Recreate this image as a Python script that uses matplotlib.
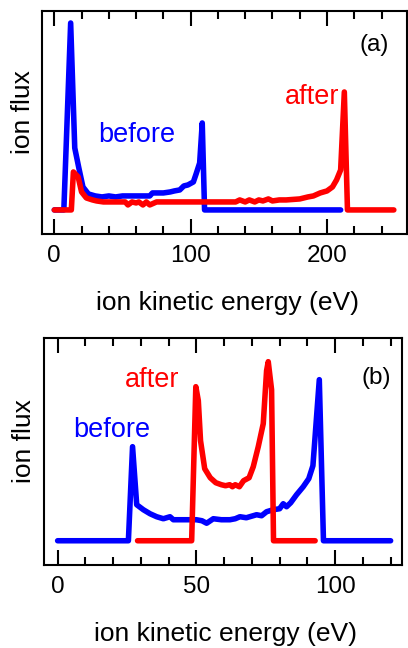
import matplotlib
matplotlib.use("Agg")
import matplotlib.pyplot as plt
from matplotlib.ticker import MultipleLocator, NullLocator

plt.rcParams['font.family'] = ['Liberation Sans', 'DejaVu Sans']

BLUE = '#0000ff'
RED = '#ff0000'

# panel (a) spectra, energy in eV, flux in arbitrary units
a_before_x = [0, 7, 12, 15, 18, 21, 25, 30, 35, 40, 45, 50, 60, 70, 72, 80, 85, 88,
              92, 95, 98, 102, 104, 106.6, 108.5, 110.2, 210]
a_before_y = [0, 0, 187, 62, 42, 23, 16, 14, 13, 14, 13, 14, 14, 14, 17, 17, 18, 19,
              20, 24, 25, 28, 36, 47, 87, 0, 0]
a_after_x = [0, 12.5, 14, 17.5, 20, 23.5, 28, 31, 36, 45, 52, 54, 57, 60, 62, 65, 67.5,
             70, 75, 90, 110, 133, 136, 140, 143, 147, 150, 153, 157, 160, 165, 170,
             180, 186, 190, 195, 200, 204, 207, 210, 212.7, 215, 249]
a_after_y = [0, 0, 38, 33, 18, 12, 10, 9, 8, 8, 8, 5, 8, 7, 8, 5, 8,
             5, 8, 8, 8, 8, 10, 8, 10, 8, 10, 9, 11, 9, 10, 10,
             11, 13, 14, 17, 19, 23, 30, 40, 118, 0, 0]

# panel (b) spectra
b_before_x = [0, 25.5, 27, 28.5, 30.9, 33.3, 35.7, 38.1, 40.5, 41.7, 44, 47.7, 50, 52,
              53.7, 56.1, 59, 62.1, 64, 65.7, 68, 71.7, 73.5, 75.3, 77.7, 80, 81.3, 82.5,
              84, 86.1, 88.5, 90.5, 92, 92.7, 94.3, 95.8, 120]
b_before_y = [0, 0, 94, 36, 31, 27, 24, 22, 24, 21, 21, 21, 21, 20, 17.5, 22, 21,
              21, 22, 24, 23, 26, 25, 29, 31, 32, 37, 34, 38, 46, 54, 62, 75, 101,
              161, 0, 0]
b_after_x = [28.8, 48.3, 49.8, 50.7, 51.5, 53, 55, 57, 59, 60.5, 62, 63, 64, 65.5, 67,
             69, 70.5, 72.3, 74.1, 75.3, 75.9, 77.1, 77.8, 92.8]
b_after_y = [0, 0, 154, 140, 100, 72, 63, 58, 56, 55, 56, 54, 56, 54, 60, 63, 74,
             94, 117, 170, 179, 151, 0, 0]

fig = plt.figure(figsize=(4.08, 6.48), dpi=100)
ax_a = fig.add_axes([0.103, 0.639, 0.894, 0.344])
ax_b = fig.add_axes([0.1086, 0.128, 0.876, 0.350])


def style(ax, xlim, ylim, major, minor):
    ax.set_xlim(*xlim)
    ax.set_ylim(*ylim)
    ax.xaxis.set_major_locator(MultipleLocator(major))
    ax.xaxis.set_minor_locator(MultipleLocator(minor))
    ax.yaxis.set_major_locator(NullLocator())
    ax.tick_params(axis='x', which='both', direction='in', top=True, bottom=True,
                   width=1.5, labelsize=17.5, pad=8)
    ax.tick_params(axis='x', which='major', length=11)
    ax.tick_params(axis='x', which='minor', length=6)
    for s in ax.spines.values():
        s.set_linewidth(1.5)


line_kw = dict(lw=4, solid_joinstyle='round', solid_capstyle='round')
ax_a.plot(a_before_x, a_before_y, color=BLUE, **line_kw)
ax_a.plot(a_after_x, a_after_y, color=RED, **line_kw)
style(ax_a, (-9, 258.5), (-24, 199), 100, 20)
ax_a.text(60.6, 75, 'before', color=BLUE, fontsize=19.5, ha='center', va='center')
ax_a.text(189, 113, 'after', color=RED, fontsize=19.5, ha='center', va='center')
ax_a.text(234.6, 165, '(a)', fontsize=17.5, ha='center', va='center')

ax_b.plot(b_before_x, b_before_y, color=BLUE, **line_kw)
ax_b.plot(b_after_x, b_after_y, color=RED, **line_kw)
style(ax_b, (-4.8, 124), (-24.3, 202.4), 50, 10)
ax_b.text(19.5, 111, 'before', color=BLUE, fontsize=19.5, ha='center', va='center')
ax_b.text(34, 161, 'after', color=RED, fontsize=19.5, ha='center', va='center')
ax_b.text(115, 163, '(b)', fontsize=17.5, ha='center', va='center')

# axis titles placed in figure coordinates
fig.text(23 / 408, 1 - 112 / 648, 'ion flux', rotation=90, fontsize=19,
         ha='center', va='center')
fig.text(24 / 408, 1 - 441 / 648, 'ion flux', rotation=90, fontsize=19,
         ha='center', va='center')
fig.text(227 / 408, 1 - 303 / 648, 'ion kinetic energy (eV)', fontsize=19,
         ha='center', va='center')
fig.text(225 / 408, 1 - 634 / 648, 'ion kinetic energy (eV)', fontsize=19,
         ha='center', va='center')

fig.savefig('out.png', dpi=100)
